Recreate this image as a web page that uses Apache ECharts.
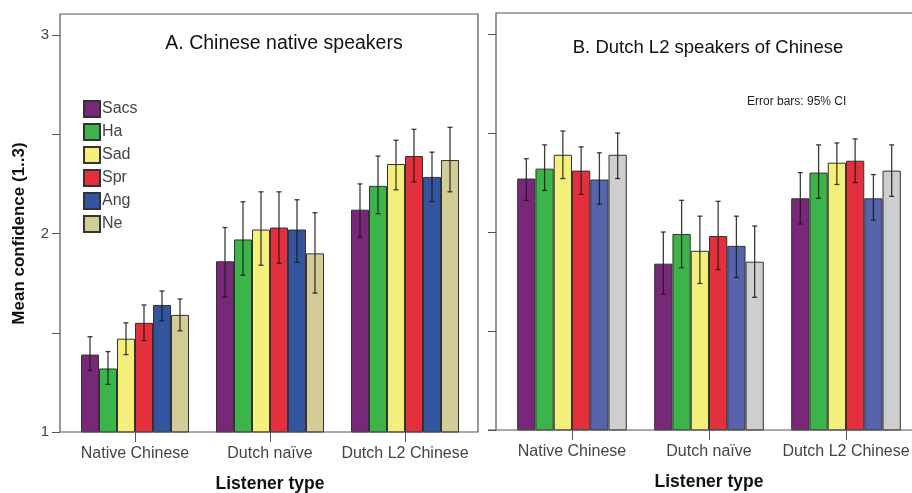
<!DOCTYPE html>
<html>
<head>
<meta charset="utf-8">
<script src="https://cdn.jsdelivr.net/npm/echarts@6/dist/echarts.min.js"></script>
<style>
  html, body { margin: 0; padding: 0; background: #fff; }
  #chart { width: 912px; height: 493px; }
</style>
</head>
<body>
<div id="chart"></div>
<script>
// 类别与情绪
const categories = ["Native Chinese", "Dutch naïve", "Dutch L2 Chinese"];
const emotions = ["Sacs", "Ha", "Sad", "Spr", "Ang", "Ne"];

// 面板 A：每行一个情绪，列为三类听者
const meanA = [
  [1.39, 1.86, 2.12],
  [1.32, 1.97, 2.24],
  [1.47, 2.02, 2.35],
  [1.55, 2.03, 2.39],
  [1.64, 2.02, 2.285],
  [1.59, 1.90, 2.37],
];
const lowA = [
  [1.31, 1.68, 1.98],
  [1.24, 1.79, 2.10],
  [1.39, 1.84, 2.22],
  [1.46, 1.85, 2.26],
  [1.56, 1.855, 2.16],
  [1.51, 1.70, 2.21],
];
const highA = [
  [1.48, 2.03, 2.25],
  [1.405, 2.16, 2.39],
  [1.55, 2.21, 2.47],
  [1.64, 2.21, 2.525],
  [1.71, 2.17, 2.41],
  [1.67, 2.105, 2.535],
];

// 面板 B
const meanB = [
  [2.27, 1.84, 2.17],
  [2.32, 1.99, 2.30],
  [2.39, 1.905, 2.35],
  [2.31, 1.98, 2.36],
  [2.265, 1.93, 2.17],
  [2.39, 1.85, 2.31],
];
const lowB = [
  [2.16, 1.685, 2.04],
  [2.21, 1.82, 2.17],
  [2.27, 1.74, 2.24],
  [2.19, 1.81, 2.25],
  [2.14, 1.77, 2.06],
  [2.27, 1.67, 2.18],
];
const highB = [
  [2.37, 2.00, 2.30],
  [2.44, 2.16, 2.44],
  [2.51, 2.08, 2.45],
  [2.43, 2.155, 2.47],
  [2.40, 2.08, 2.29],
  [2.50, 2.03, 2.44],
];

const yTicks = [1, 2, 3];

const colorsA = ["#782878", "#3bb54a", "#f4ef7a", "#e3303c", "#33559f", "#d2cc96"];
const colorsB = ["#782878", "#3bb54a", "#f4ef7a", "#e3303c", "#5564ad", "#cdcecd"];

const FONT = "Liberation Sans";
const LINE = "#555";
const BAR_GAP_RATIO = 0.8;

function errorRender(idx) {
  return function (params, api) {
    const band = api.size([1, 0])[0];
    const bw = (band * BAR_GAP_RATIO) / emotions.length;
    const off = (idx - (emotions.length - 1) / 2) * bw;
    const top = api.coord([api.value(0), api.value(2)]);
    const bot = api.coord([api.value(0), api.value(1)]);
    const x = top[0] + off;
    const style = { stroke: "#1a1a1a", lineWidth: 1.3, opacity: 0.85 };
    return {
      type: "group",
      children: [
        { type: "line", shape: { x1: x, y1: top[1], x2: x, y2: bot[1] }, style },
        { type: "line", shape: { x1: x - 2.5, y1: top[1], x2: x + 2.5, y2: top[1] }, style },
        { type: "line", shape: { x1: x - 2.5, y1: bot[1], x2: x + 2.5, y2: bot[1] }, style },
      ],
    };
  };
}

function buildPanelSeries(mean, low, high, colors, gridIdx) {
  const out = [];
  emotions.forEach((name, i) => {
    out.push({
      name,
      type: "bar",
      xAxisIndex: gridIdx,
      yAxisIndex: gridIdx,
      barGap: "0%",
      barCategoryGap: "20%",
      itemStyle: { color: colors[i], borderColor: "#333", borderWidth: 1 },
      emphasis: { disabled: true },
      data: mean[i],
    });
  });
  emotions.forEach((name, i) => {
    out.push({
      type: "custom",
      xAxisIndex: gridIdx,
      yAxisIndex: gridIdx,
      z: 5,
      silent: true,
      renderItem: errorRender(i),
      data: categories.map((c, k) => [k, low[i][k], high[i][k]]),
    });
  });
  return out;
}

function xAxisFor(gridIndex) {
  return {
    type: "category",
    gridIndex,
    data: categories,
    axisLine: { show: false },
    axisTick: { show: true, interval: 0, alignWithLabel: true, length: 10, lineStyle: { color: LINE } },
    axisLabel: { interval: 0, color: "#444", fontSize: 16, fontFamily: FONT, margin: 14 },
    name: "Listener type",
    nameLocation: "middle",
    nameGap: 43,
    nameTextStyle: { color: "#111", fontSize: 17.5, fontWeight: "bold", fontFamily: FONT },
  };
}

function yAxisFor(gridIndex, showLabels) {
  return {
    type: "value",
    gridIndex,
    min: 1,
    max: 3,
    interval: 0.5,
    offset: 7.5,
    axisLine: { show: false },
    axisTick: { show: true, length: 8, lineStyle: { color: LINE } },
    splitLine: { show: false },
    axisLabel: {
      show: showLabels,
      color: "#444",
      fontSize: 15,
      fontFamily: FONT,
      margin: 11,
      formatter: (v) => (yTicks.includes(v) ? String(v) : ""),
    },
    name: showLabels ? "Mean confidence (1..3)" : "",
    nameLocation: "middle",
    nameGap: 32,
    nameTextStyle: { color: "#111", fontSize: 17, fontWeight: "bold", fontFamily: FONT },
  };
}

const chart = echarts.init(document.getElementById("chart"), null, { renderer: "canvas" });

chart.setOption({
  animation: false,
  backgroundColor: "#fff",
  textStyle: { fontFamily: FONT },
  title: [
    {
      text: "A. Chinese native speakers",
      left: 279, top: 29, textAlign: "center",
      textStyle: { fontSize: 19.5, fontWeight: "normal", color: "#111", fontFamily: FONT },
    },
    {
      text: "B. Dutch L2 speakers of Chinese",
      left: 703, top: 33, textAlign: "center",
      textStyle: { fontSize: 18.5, fontWeight: "normal", color: "#111", fontFamily: FONT },
    },
    {
      text: "Error bars: 95% CI",
      left: 742, top: 91,
      textStyle: { fontSize: 12, fontWeight: "normal", color: "#222", fontFamily: FONT },
    },
  ],
  legend: {
    data: emotions,
    orient: "vertical",
    left: 78, top: 95,
    itemWidth: 16, itemHeight: 16, itemGap: 5,
    icon: "rect",
    selectedMode: false,
    textStyle: { color: "#444", fontSize: 16, fontFamily: FONT, padding: [0, 0, 0, -3] },
  },
  grid: [
    { left: 67.5, top: 35, width: 405, height: 397, outerBoundsMode: "none" },
    { left: 503.5, top: 34, width: 411, height: 396, outerBoundsMode: "none" },
  ],
  xAxis: [xAxisFor(0), xAxisFor(1)],
  yAxis: [yAxisFor(0, true), yAxisFor(1, false)],
  series: [
    ...buildPanelSeries(meanA, lowA, highA, colorsA, 0),
    ...buildPanelSeries(meanB, lowB, highB, colorsB, 1),
  ],
  graphic: [
    // 面板 A 外框
    {
      type: "rect", z: 10, silent: true,
      shape: { x: 60, y: 14, width: 418, height: 418 },
      style: { fill: null, stroke: LINE, lineWidth: 1.2 },
    },
    // 面板 B 外框（右侧超出画面）
    {
      type: "polyline", z: 10, silent: true,
      shape: { points: [[912, 13], [496, 13], [496, 430]] },
      style: { fill: null, stroke: LINE, lineWidth: 1.2 },
    },
    {
      type: "line", z: 10, silent: true,
      shape: { x1: 488, y1: 430, x2: 912, y2: 430 },
      style: { stroke: LINE, lineWidth: 1.2 },
    },
  ],
});
</script>
</body>
</html>
